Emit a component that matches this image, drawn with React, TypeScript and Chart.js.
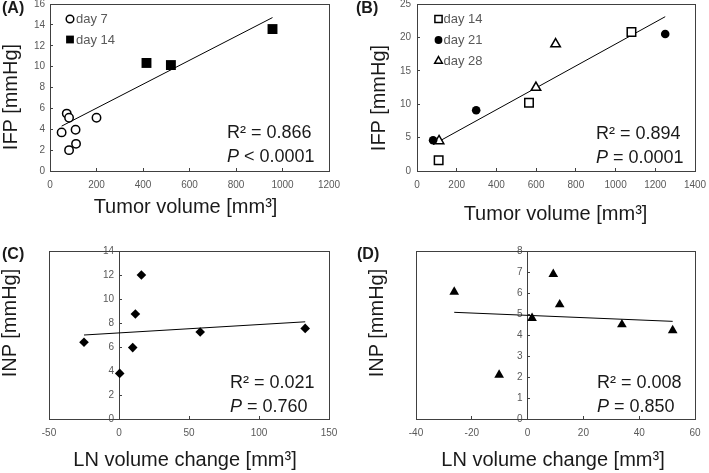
import React, { useEffect, useRef } from "react";
import { Chart, registerables } from "chart.js";

Chart.register(...registerables);

const FONT = "'Liberation Sans', Arial, Helvetica, sans-serif";
const TICK_COLOR = "#595959";
const AXIS_COLOR = "#404040";
const TEXT_COLOR = "#1a1a1a";

// ---------- Panel A : IFP vs tumor volume (day 7 / day 14)
const aDay7X = [50, 72, 82, 82, 110, 112, 200];
const aDay7Y = [3.7, 5.5, 5.1, 2.0, 3.95, 2.6, 5.1];
const aDay14X = [415, 520, 957];
const aDay14Y = [10.35, 10.15, 13.6];
const aTrendX = [50, 957];
const aTrendY = [4.3, 14.7];
const aXRange = [0, 1200, 200];
const aYRange = [0, 16, 2];
const aLegend = ["day 7", "day 14"];

// ---------- Panel B : IFP vs tumor volume (day 14 / 21 / 28)
const bDay14X = [109, 564, 1080];
const bDay14Y = [1.6, 10.2, 20.8];
const bDay21X = [81, 298, 1250];
const bDay21Y = [4.6, 9.1, 20.5];
const bDay28X = [111, 599, 698];
const bDay28Y = [4.5, 12.5, 19.0];
const bTrendX = [81, 1250];
const bTrendY = [3.95, 23.1];
const bXRange = [0, 1400, 200];
const bYRange = [0, 25, 5];
const bLegend = ["day 14", "day 21", "day 28"];

// ---------- Panel C : INP vs LN volume change
const cX = [-25, 0.5, 9.8, 11.7, 16, 58, 133];
const cY = [6.4, 3.8, 5.95, 8.75, 12.0, 7.25, 7.55];
const cTrendX = [-25, 133];
const cTrendY = [7.0, 8.1];
const cXRange = [-50, 150, 50];
const cYRange = [0, 14, 2];

// ---------- Panel D : INP vs LN volume change
const dX = [-26.3, -10.2, 1.6, 9.2, 11.5, 33.8, 52.0];
const dY = [6.05, 2.1, 4.8, 6.9, 5.45, 4.5, 4.22];
const dTrendX = [-26.3, 52];
const dTrendY = [5.08, 4.65];
const dXRange = [-40, 60, 20];
const dYRange = [0, 8, 1];

const zip = (xs: number[], ys: number[]) => xs.map((x, i) => ({ x, y: ys[i] }));

type Marker = { shape: "circle" | "rect" | "triangle"; fill: string; size: number; lw: number };

function drawMarker(ctx: CanvasRenderingContext2D, m: Marker, x: number, y: number) {
  ctx.save();
  ctx.beginPath();
  const s = m.size;
  if (m.shape === "circle") {
    ctx.arc(x, y, s, 0, Math.PI * 2);
  } else if (m.shape === "rect") {
    ctx.rect(x - s, y - s, 2 * s, 2 * s);
  } else {
    ctx.moveTo(x, y - s);
    ctx.lineTo(x + s * 0.866, y + s * 0.5);
    ctx.lineTo(x - s * 0.866, y + s * 0.5);
    ctx.closePath();
  }
  ctx.fillStyle = m.fill;
  ctx.fill();
  if (m.lw > 0) {
    ctx.lineWidth = m.lw;
    ctx.strokeStyle = "#000";
    ctx.stroke();
  }
  ctx.restore();
}

const framePlugin = {
  id: "frame",
  beforeDraw(chart: any, _args: any, opts: any) {
    // shift y tick labels of a zero-positioned y axis away from the axis line
    const shift = opts && opts.yLabelShift;
    if (!shift) return;
    const s = chart.scales.y;
    const items = s.getLabelItems(chart.chartArea);
    items.forEach((it: any) => {
      if (it.options && it.options.translation) it.options.translation[0] -= shift;
    });
  },
  beforeDatasetsDraw(chart: any) {
    const { ctx, chartArea: a } = chart;
    ctx.save();
    ctx.strokeStyle = AXIS_COLOR;
    ctx.lineWidth = 1;
    const l = Math.round(a.left) + 0.5;
    const t = Math.round(a.top) + 0.5;
    ctx.strokeRect(l, t, Math.round(a.right) - Math.round(a.left), Math.round(a.bottom) - Math.round(a.top));
    ctx.restore();
  },
  afterDatasetsDraw(chart: any, _args: any, opts: any) {
    const lg = opts && opts.legend;
    if (!lg) return;
    const { ctx, chartArea: a } = chart;
    ctx.save();
    lg.items.forEach((it: any, i: number) => {
      const x = a.left + lg.left;
      const y = a.top + lg.top + i * lg.gap;
      drawMarker(ctx, it.marker, x, y);
      ctx.font = `13px ${FONT}`;
      ctx.fillStyle = TICK_COLOR;
      ctx.textAlign = "left";
      ctx.textBaseline = "middle";
      ctx.fillText(it.label, x + lg.textGap, y + 0.5);
    });
    ctx.restore();
  },
};

type PanelSpec = {
  w: number;
  h: number;
  area: [number, number, number, number]; // left, top, right, bottom inside canvas
  xRange: number[];
  yRange: number[];
  yAtZero: boolean;
  datasets: any[];
  legend?: any;
  yPad: number;
};

function buildConfig(p: PanelSpec): any {
  const [l, t, r, b] = p.area;
  const tickFont = { family: FONT, size: 10 };
  const zeroPad = (s: any) => {
    s.paddingTop = 0;
    s.paddingBottom = 0;
    s.paddingLeft = 0;
    s.paddingRight = 0;
  };
  const fmt = (v: any) => String(v);
  return {
    type: "scatter",
    data: { datasets: p.datasets },
    plugins: [framePlugin],
    options: {
      responsive: false,
      devicePixelRatio: 1,
      animation: false,
      events: [],
      layout: { autoPadding: false, padding: { left: p.yAtZero ? l : 0, top: t, right: p.w - r, bottom: 0 } },
      plugins: {
        legend: { display: false },
        tooltip: { enabled: false },
        frame: { legend: p.legend, yLabelShift: p.yAtZero ? p.yPad : 0 },
      },
      scales: {
        x: {
          type: "linear",
          position: "bottom",
          min: p.xRange[0],
          max: p.xRange[1],
          ticks: { stepSize: p.xRange[2], color: TICK_COLOR, font: tickFont, padding: 11, maxRotation: 0, callback: fmt },
          grid: { drawOnChartArea: false, drawTicks: true, tickLength: -3, color: AXIS_COLOR },
          border: { display: true, color: AXIS_COLOR, width: 1 },
          afterFit: (s: any) => {
            s.height = p.h - b;
            zeroPad(s);
          },
        },
        y: {
          type: "linear",
          position: p.yAtZero ? { x: 0 } : "left",
          min: p.yRange[0],
          max: p.yRange[1],
          ticks: { stepSize: p.yRange[2], color: TICK_COLOR, font: tickFont, padding: p.yAtZero ? 0 : p.yPad, callback: fmt },
          grid: { drawOnChartArea: false, drawTicks: true, tickLength: -3, color: AXIS_COLOR },
          border: { display: true, color: AXIS_COLOR, width: 1 },
          afterFit: (s: any) => {
            if (!p.yAtZero) s.width = l;
            zeroPad(s);
          },
        },
      },
    },
  };
}

const trendSet = (xs: number[], ys: number[]) => ({
  type: "line",
  data: zip(xs, ys),
  showLine: true,
  borderColor: "#000",
  borderWidth: 1,
  pointRadius: 0,
  pointHoverRadius: 0,
  fill: false,
  tension: 0,
});

const pts = (xs: number[], ys: number[], style: string, radius: number, bg: string, bw: number) => ({
  data: zip(xs, ys),
  pointStyle: style,
  pointRadius: radius,
  pointHoverRadius: radius,
  backgroundColor: bg,
  borderColor: "#000",
  borderWidth: bw,
  pointBorderWidth: bw,
  showLine: false,
});

const panelA: PanelSpec = {
  w: 354,
  h: 236,
  area: [50, 4, 329, 171],
  xRange: aXRange,
  yRange: aYRange,
  yAtZero: false,
  yPad: 8,
  datasets: [
    pts(aDay7X, aDay7Y, "circle", 4.2, "#fff", 1.5),
    pts(aDay14X, aDay14Y, "rect", 7, "#000", 0),
    trendSet(aTrendX, aTrendY),
  ],
  legend: {
    left: 20,
    top: 15,
    gap: 20.5,
    textGap: 6,
    items: [
      { label: aLegend[0], marker: { shape: "circle", fill: "#fff", size: 3.8, lw: 1.5 } },
      { label: aLegend[1], marker: { shape: "rect", fill: "#000", size: 3.9, lw: 0 } },
    ],
  },
};

const panelB: PanelSpec = {
  w: 355,
  h: 236,
  area: [63, 4, 341, 171],
  xRange: bXRange,
  yRange: bYRange,
  yAtZero: false,
  yPad: 9,
  datasets: [
    pts(bDay14X, bDay14Y, "rect", 6, "#fff", 1.5),
    pts(bDay21X, bDay21Y, "circle", 4.3, "#000", 0),
    pts(bDay28X, bDay28Y, "triangle", 5.5, "#fff", 1.5),
    trendSet(bTrendX, bTrendY),
  ],
  legend: {
    left: 21.5,
    top: 15,
    gap: 21,
    textGap: 5,
    items: [
      { label: bLegend[0], marker: { shape: "rect", fill: "#fff", size: 3.6, lw: 1.5 } },
      { label: bLegend[1], marker: { shape: "circle", fill: "#000", size: 3.9, lw: 0 } },
      { label: bLegend[2], marker: { shape: "triangle", fill: "#fff", size: 4.4, lw: 1.5 } },
    ],
  },
};

const panelC: PanelSpec = {
  w: 354,
  h: 237,
  area: [49, 15, 329, 183],
  xRange: cXRange,
  yRange: cYRange,
  yAtZero: true,
  yPad: 5,
  datasets: [pts(cX, cY, "rectRot", 4.8, "#000", 0), trendSet(cTrendX, cTrendY)],
};

const panelD: PanelSpec = {
  w: 355,
  h: 237,
  area: [62, 15, 341, 183],
  xRange: dXRange,
  yRange: dYRange,
  yAtZero: true,
  yPad: 5,
  datasets: [pts(dX, dY, "triangle", 5.6, "#000", 0), trendSet(dTrendX, dTrendY)],
};

function Panel({ spec, left, top }: { spec: PanelSpec; left: number; top: number }) {
  const ref = useRef<HTMLCanvasElement | null>(null);
  useEffect(() => {
    if (!ref.current) return;
    const chart = new Chart(ref.current, buildConfig(spec));
    return () => chart.destroy();
  }, [spec]);
  return (
    <canvas
      ref={ref}
      width={spec.w}
      height={spec.h}
      style={{ position: "absolute", left, top, width: spec.w, height: spec.h }}
    />
  );
}

const base: React.CSSProperties = {
  position: "absolute",
  fontFamily: FONT,
  whiteSpace: "nowrap",
  lineHeight: 1,
  color: TEXT_COLOR,
};

function PanelLabel({ text, left, top }: { text: string; left: number; top: number }) {
  return <div style={{ ...base, left, top, fontSize: 16, fontWeight: "bold" }}>{text}</div>;
}

function YTitle({ text, cx, cy }: { text: string; cx: number; cy: number }) {
  return (
    <div
      style={{
        ...base,
        left: cx,
        top: cy,
        fontSize: 20,
        transform: "translate(-50%, -50%) rotate(-90deg)",
      }}
    >
      {text}
    </div>
  );
}

function XTitle({ text, cx, top }: { text: string; cx: number; top: number }) {
  return <div style={{ ...base, left: cx, top, fontSize: 20, transform: "translateX(-50%)" }}>{text}</div>;
}

function Stats({ r2, p, op, left, top }: { r2: string; p: string; op: string; left: number; top: number }) {
  return (
    <>
      <div style={{ ...base, left, top, fontSize: 18 }}>{`R\u00B2 = ${r2}`}</div>
      <div style={{ ...base, left, top: top + 24, fontSize: 18 }}>
        <i>P</i>
        {` ${op} ${p}`}
      </div>
    </>
  );
}

export default function App() {
  return (
    <div style={{ position: "absolute", left: 0, top: 0, width: 709, height: 473, background: "#fff", overflow: "hidden" }}>
      <Panel spec={panelA} left={0} top={0} />
      <Panel spec={panelB} left={354} top={0} />
      <Panel spec={panelC} left={0} top={236} />
      <Panel spec={panelD} left={354} top={236} />

      <PanelLabel text="(A)" left={2} top={0} />
      <PanelLabel text="(B)" left={356} top={0} />
      <PanelLabel text="(C)" left={2} top={246} />
      <PanelLabel text="(D)" left={357} top={246} />

      <YTitle text="IFP [mmHg]" cx={10} cy={97} />
      <YTitle text="IFP [mmHg]" cx={378} cy={98} />
      <YTitle text="INP [mmHg]" cx={9} cy={323} />
      <YTitle text="INP [mmHg]" cx={376} cy={323} />

      <XTitle text={"Tumor volume [mm\u00B3]"} cx={185.5} top={196} />
      <XTitle text={"Tumor volume [mm\u00B3]"} cx={555.5} top={203} />
      <XTitle text={"LN volume change [mm\u00B3]"} cx={185} top={449} />
      <XTitle text={"LN volume change [mm\u00B3]"} cx={553} top={449} />

      <Stats r2="0.866" op="<" p="0.0001" left={227} top={123} />
      <Stats r2="0.894" op="=" p="0.0001" left={596} top={124} />
      <Stats r2="0.021" op="=" p="0.760" left={230} top={373} />
      <Stats r2="0.008" op="=" p="0.850" left={597} top={373} />
    </div>
  );
}
